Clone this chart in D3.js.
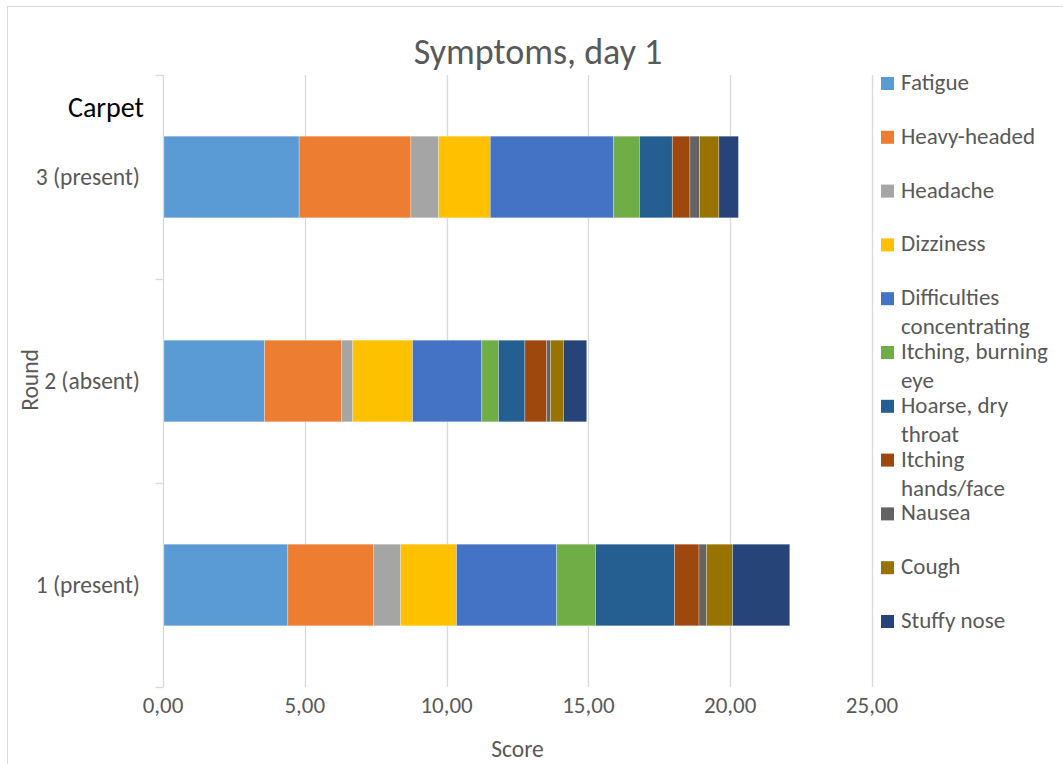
<!DOCTYPE html>
<html>
<head>
<meta charset="utf-8">
<script src="https://cdn.jsdelivr.net/npm/d3@7"></script>
<style>
  html, body { margin: 0; padding: 0; background: #fff; }
  svg { display: block; font-family: Carlito, Lato, "Open Sans", sans-serif; }
</style>
</head>
<body>
<svg id="chart" width="1063" height="764"></svg>
<script>
// Rounds on the category axis, top to bottom
const rounds = ["3 (present)", "2 (absent)", "1 (present)"];

// Symptom series, in stacking order
const symptoms = [
  "Fatigue", "Heavy-headed", "Headache", "Dizziness",
  "Difficulties concentrating", "Itching, burning eye", "Hoarse, dry throat",
  "Itching hands/face", "Nausea", "Cough", "Stuffy nose"
];

// Legend text, split over lines where it wraps
const legendLines = [
  ["Fatigue"], ["Heavy-headed"], ["Headache"], ["Dizziness"],
  ["Difficulties", "concentrating"], ["Itching, burning", "eye"], ["Hoarse, dry", "throat"],
  ["Itching", "hands/face"], ["Nausea"], ["Cough"], ["Stuffy nose"]
];

// Mean symptom scores per round (same order as symptoms)
const round3 = [4.80, 3.94, 0.98, 1.82, 4.35, 0.91, 1.16, 0.62, 0.34, 0.68, 0.69];
const round2 = [3.58, 2.72, 0.39, 2.11, 2.44, 0.59, 0.93, 0.77, 0.14, 0.45, 0.82];
const round1 = [4.40, 3.03, 0.95, 1.97, 3.53, 1.37, 2.79, 0.86, 0.27, 0.91, 2.02];

const xTicks = [0, 5, 10, 15, 20, 25];

const colors = [
  "#5B9BD5", "#ED7D31", "#A5A5A5", "#FFC000", "#4472C4", "#70AD47",
  "#255E91", "#9E480E", "#636363", "#997300", "#264478"
];

const valuesByRound = { "3 (present)": round3, "2 (absent)": round2, "1 (present)": round1 };
const table = rounds.map(r => {
  const row = { round: r };
  symptoms.forEach((s, i) => { row[s] = valuesByRound[r][i]; });
  return row;
});

const svg = d3.select("#chart");
const textGrey = "#595959";
const lineGrey = "#d9d9d9";

// Chart frame
svg.append("rect")
  .attr("x", 7.5).attr("y", 6.5)
  .attr("width", 1100).attr("height", 800)
  .attr("fill", "none").attr("stroke", lineGrey).attr("stroke-width", 1);

const plotTop = 75, plotBottom = 687;
const x = d3.scaleLinear().domain([0, 25]).range([163, 872]);
const y = d3.scaleBand().domain(rounds).range([plotTop, plotBottom])
  .paddingInner(0.6).paddingOuter(0.3);

// Vertical gridlines
svg.append("g").selectAll("line")
  .data(xTicks.filter(d => d > 0))
  .join("line")
  .attr("x1", d => Math.round(x(d)) + 0.5).attr("x2", d => Math.round(x(d)) + 0.5)
  .attr("y1", plotTop).attr("y2", plotBottom)
  .attr("stroke", lineGrey).attr("stroke-width", 1.3);

// Stacked bars
const stack = d3.stack().keys(symptoms)(table);
svg.append("g").selectAll("g")
  .data(stack)
  .join("g")
  .attr("fill", (d, i) => colors[i])
  .selectAll("rect")
  .data(d => d)
  .join("rect")
  .attr("x", d => x(d[0]))
  .attr("width", d => x(d[1]) - x(d[0]))
  .attr("y", d => y(d.data.round))
  .attr("height", y.bandwidth())
  .attr("stroke", "#ffffff").attr("stroke-opacity", 0.35).attr("stroke-width", 0.8);

// Category axis line with boundary ticks
const axisX = Math.round(x(0)) + 0.5;
svg.append("line")
  .attr("x1", axisX).attr("x2", axisX)
  .attr("y1", plotTop).attr("y2", plotBottom)
  .attr("stroke", lineGrey).attr("stroke-width", 1.3);
const boundaries = d3.range(rounds.length + 1).map(i => plotTop + i * y.step());
svg.append("g").selectAll("line")
  .data(boundaries)
  .join("line")
  .attr("x1", axisX - 8).attr("x2", axisX)
  .attr("y1", d => Math.round(d) + 0.5).attr("y2", d => Math.round(d) + 0.5)
  .attr("stroke", lineGrey).attr("stroke-width", 1.3);

// Category labels
svg.append("g").selectAll("text")
  .data(rounds)
  .join("text")
  .attr("x", 140)
  .attr("y", d => y(d) + y.bandwidth() / 2 + 8)
  .attr("text-anchor", "end")
  .attr("font-size", 23.5)
  .attr("fill", textGrey)
  .text(d => d);

// Value axis labels
const fmt = d => d3.format(".2f")(d).replace(".", ",");
svg.append("g").selectAll("text")
  .data(xTicks)
  .join("text")
  .attr("x", d => x(d))
  .attr("y", 713)
  .attr("text-anchor", "middle")
  .attr("font-size", 23)
  .attr("fill", textGrey)
  .text(fmt);

// Title
svg.append("text")
  .attr("x", 538).attr("y", 64)
  .attr("text-anchor", "middle")
  .attr("font-size", 36)
  .attr("fill", textGrey)
  .text("Symptoms, day 1");

// Group heading
svg.append("text")
  .attr("x", 68).attr("y", 117)
  .attr("font-size", 28)
  .attr("fill", "#000000")
  .text("Carpet");

// Axis titles
svg.append("text")
  .attr("x", (x(0) + x(25)) / 2).attr("y", 757)
  .attr("text-anchor", "middle")
  .attr("font-size", 23.5)
  .attr("fill", textGrey)
  .text("Score");

svg.append("text")
  .attr("transform", "translate(38,380) rotate(-90)")
  .attr("text-anchor", "middle")
  .attr("font-size", 23.5)
  .attr("fill", textGrey)
  .text("Round");

// Legend
const legendStep = 53.8;
const legend = svg.append("g").selectAll("g")
  .data(symptoms)
  .join("g")
  .attr("transform", (d, i) => `translate(881,${90 + i * legendStep})`);

legend.append("rect")
  .attr("x", 0).attr("y", -13)
  .attr("width", 13).attr("height", 13)
  .attr("fill", (d, i) => colors[i]);

legend.append("text")
  .attr("x", 20).attr("y", 0)
  .attr("font-size", 23)
  .attr("fill", textGrey)
  .selectAll("tspan")
  .data((d, i) => legendLines[i])
  .join("tspan")
  .attr("x", 20)
  .attr("dy", (d, j) => j === 0 ? 0 : 29)
  .text(d => d);
</script>
</body>
</html>
